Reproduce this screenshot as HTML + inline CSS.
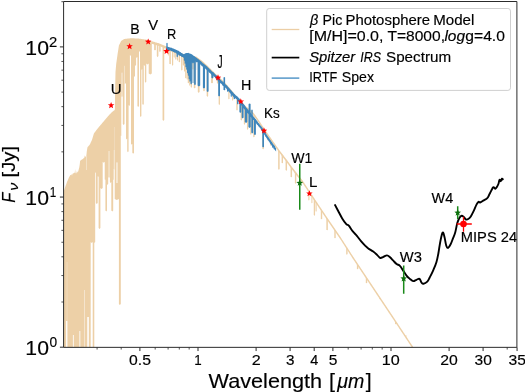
<!DOCTYPE html>
<html><head><meta charset="utf-8"><title>SED</title>
<style>html,body{margin:0;padding:0;background:#fff;}body{width:525px;height:392px;overflow:hidden;font-family:"Liberation Sans", sans-serif;}svg{display:block;will-change:transform;}text{stroke:#000;stroke-width:.16px;}</style></head>
<body>
<svg width="525" height="392" viewBox="0 0 525 392" font-family='"Liberation Sans", sans-serif' fill="#000" stroke-linejoin="round">
<defs><clipPath id="ax"><rect x="63.6" y="1.5" width="453.3" height="345.85"/></clipPath></defs>
<rect width="525" height="392" fill="#fff"/>
<g clip-path="url(#ax)">
<polygon points="63.5,192.6 63.8,191.25 63.9,190.8 64.1,190.2 64.4,189.3 64.7,188.4 65,187.5 65.2,186.9 65.3,186.63 65.6,185.83 65.9,185.02 66.2,184.22 66.5,183.41 66.8,182.61 67.1,181.8 67.4,181.11 67.7,180.41 68.01,179.69 68.31,179 68.61,178.3 68.91,177.61 69,177.4 69.21,177.04 69.51,176.54 69.81,176.03 70.11,175.52 70.3,175.2 70.41,175.12 70.71,174.88 71.01,174.65 71.31,174.42 71.6,174.2 71.61,174.25 71.91,175.59 72,176 72.21,174.95 72.4,174 72.51,173.89 72.8,173.6 72.81,173.6 73.11,173.46 73.41,173.32 73.71,173.18 74.01,173.04 74.1,173 74.31,172.85 74.61,172.64 74.8,172.5 74.91,171.25 75.1,169.1 75.21,170.12 75.5,172.8 75.51,172.82 75.81,173.3 76,173.6 76.11,173.4 76.41,172.85 76.6,172.5 76.71,171.92 77,170.4 77.02,170.49 77.32,171.92 77.4,172.3 77.62,172.3 77.9,172.3 77.92,172.23 78.22,171.19 78.52,170.15 78.82,169.12 79.12,168.08 79.2,167.8 79.42,166.41 79.72,164.51 79.8,164 80.02,161.65 80.1,160.8 80.32,160.65 80.62,160.44 80.92,160.23 81.22,160.02 81.52,159.81 81.82,159.6 82.12,159.39 82.4,159.2 82.42,159.19 82.72,158.98 83.02,158.77 83.32,158.56 83.62,158.36 83.7,158.3 83.92,158.08 84.22,157.78 84.4,157.6 84.52,156.6 84.7,155.1 84.82,155.67 85.1,157 85.12,156.98 85.42,156.62 85.6,156.4 85.73,156.33 86.03,156.15 86.3,156 86.33,155.72 86.63,152.9 86.8,151.3 86.93,150.54 87.23,148.78 87.5,147.2 87.53,147.17 87.83,146.83 88.13,146.49 88.43,146.15 88.73,145.81 89.03,145.47 89.33,145.13 89.63,144.79 89.8,144.6 89.93,144.32 90.23,143.67 90.53,143.01 90.83,142.36 91.13,141.71 91.43,141.06 91.73,140.4 92.03,139.75 92.1,139.6 92.33,138.84 92.63,137.84 92.93,136.85 93.23,135.85 93.53,134.86 93.83,133.86 94,133.3 94.13,133.13 94.44,132.72 94.74,132.33 95.04,131.94 95.34,131.55 95.64,131.16 95.94,130.76 96.24,130.37 96.54,129.98 96.84,129.59 97.14,129.19 97.44,128.8 97.74,128.41 97.9,128.2 98.04,128.03 98.34,127.68 98.64,127.32 98.94,126.97 99.24,126.61 99.54,126.26 99.84,125.9 100.14,125.55 100.44,125.19 100.74,124.84 101.04,124.48 101.34,124.13 101.64,123.77 101.7,123.7 101.94,123.42 102.24,123.06 102.54,122.71 102.84,122.35 103.14,121.99 103.45,121.63 103.75,121.27 104.05,120.92 104.35,120.56 104.65,120.21 104.95,119.85 105.25,119.5 105.5,119.2 105.55,119.14 105.85,118.79 106.15,118.45 106.45,118.1 106.75,117.75 107.05,117.41 107.35,117.06 107.65,116.71 107.95,116.36 108.25,116.02 108.55,115.67 108.85,115.32 109.15,114.97 109.3,114.8 109.45,114.65 109.75,114.35 110.05,114.05 110.35,113.75 110.65,113.45 110.95,113.15 111.25,112.85 111.55,112.55 111.85,112.25 112.16,111.94 112.46,111.64 112.5,111.6 112.76,111.42 113.06,111.22 113.36,111.01 113.66,110.81 113.96,110.6 114.26,110.4 114.4,110.3 114.56,110.04 114.86,109.56 114.9,109.5 115.1,92 115.16,89 115.46,74 115.5,72 115.76,69.03 116.06,65.6 116.2,64 116.36,62.85 116.66,60.7 116.96,58.55 117.26,56.4 117.4,55.4 117.56,54.34 117.86,52.36 118.16,50.38 118.46,48.4 118.76,46.42 118.9,45.5 119.06,45.18 119.36,44.58 119.66,43.98 119.96,43.38 120.26,42.78 120.56,42.18 120.86,41.58 121.17,40.96 121.2,40.9 121.47,40.73 121.77,40.54 122.07,40.35 122.37,40.16 122.67,39.97 122.97,39.78 123.27,39.59 123.57,39.4 123.87,39.21 124.17,39.02 124.2,39 124.47,38.97 124.77,38.93 125.07,38.9 125.37,38.86 125.67,38.83 125.97,38.79 126.27,38.76 126.57,38.73 126.87,38.69 127.17,38.66 127.47,38.62 127.77,38.59 128.07,38.55 128.37,38.52 128.67,38.48 128.97,38.45 129.27,38.41 129.57,38.38 129.88,38.34 130.18,38.31 130.48,38.27 130.78,38.24 131.08,38.2 131.1,38.2 131.38,38.21 131.68,38.23 131.98,38.25 132.28,38.26 132.58,38.28 132.88,38.29 133.18,38.31 133.48,38.32 133.78,38.34 134.08,38.35 134.38,38.37 134.68,38.39 134.98,38.4 135.28,38.42 135.58,38.43 135.88,38.45 136.18,38.46 136.48,38.48 136.78,38.5 137.08,38.51 137.38,38.53 137.68,38.54 137.98,38.56 138.28,38.57 138.59,38.59 138.8,38.6 138.89,38.61 139.19,38.66 139.49,38.7 139.79,38.74 140.09,38.79 140.39,38.83 140.69,38.87 140.99,38.92 141.29,38.96 141.59,39 141.89,39.05 142.19,39.09 142.49,39.13 142.79,39.18 143.09,39.22 143.39,39.26 143.69,39.31 143.99,39.35 144.29,39.39 144.59,39.44 144.89,39.48 145.19,39.52 145.49,39.57 145.79,39.61 146.09,39.66 146.39,39.7 146.4,39.7 146.69,39.79 146.99,39.87 147.29,39.96 147.6,40.06 147.9,40.14 148.2,40.23 148.5,40.32 148.8,40.41 149.1,40.5 149.4,40.59 149.7,40.68 150,40.77 150.3,40.86 150.6,40.94 150.9,41.03 151.2,41.12 151.5,41.21 151.8,41.3 151.8,73.4 150.25,74.4 148.7,73.4 148.7,63.5 147.5,64.5 146.3,63.5 146.3,81.8 145.6,82.8 144.9,81.8 144.9,65 144.35,66 143.8,65 143.8,104 143.05,105 142.3,104 142.3,69.1 141.85,70 141.4,69.1 141.4,116 140.7,117 140,116 140,51 139.5,52 139,51 139,106 138.2,107 137.4,106 137.4,57 136.75,58 136.1,57 136.1,65 135.55,66 135,65 135,76 134.5,77 134,76 134,152.8 133.15,153.8 132.3,152.8 132.3,143.7 131.65,144.7 131,143.7 131,55 130.45,56 129.9,55 129.9,105 129.25,106 128.6,105 128.6,151.2 127.9,152.2 127.2,151.2 127.2,138.5 126.6,139.5 126,138.5 126,83 125.5,84 125,83 125,65.5 124.75,66 124.5,65.5 124.5,124 123.65,125 122.8,124 122.8,96.6 122.6,97 122.4,96.6 122.4,72.2 122,73 121.6,72.2 121.6,96.7 121.45,97 121.3,96.7 121.3,135.5 121.05,136 120.8,135.5 120.8,304 119.85,305 118.9,304 118.9,199 116.8,200 114.7,199 114.7,169 114.2,170 113.7,169 113.7,179.5 113.45,180 113.2,179.5 113.2,210.5 112.25,211.5 111.3,210.5 111.3,182 110.6,183 109.9,182 109.9,177 109.05,178 108.2,177 108.2,184 107.6,185 107,184 107,210.5 106.2,211.5 105.4,210.5 105.4,179.3 105.05,180 104.7,179.3 104.7,161.7 103.7,162.7 102.7,161.7 102.7,188 101.55,189 100.4,188 100.4,228 99.5,229 98.6,228 98.6,176.1 98.15,177 97.7,176.1 97.7,203 96.8,204 95.9,203 95.9,172.3 95.55,173 95.2,172.3 95.2,242.1 94.75,243 94.3,242.1 94.3,360 92.7,360 92.7,242 91.7,243 90.7,242 90.7,360 63.5,360" fill="#edd0a7"/>
<rect x="66.1" y="321" width="1.3" height="39" fill="#fff" opacity="1"/>
<rect x="72.9" y="335" width="0.9" height="25" fill="#fff" opacity="0.9"/>
<rect x="79.4" y="331" width="0.9" height="29" fill="#fff" opacity="0.9"/>
<rect x="84.1" y="290" width="0.8" height="70" fill="#fff" opacity="0.55"/>
<rect x="87.3" y="317" width="1.5" height="43" fill="#fff" opacity="1"/>
<rect x="66.7" y="262" width="0.7" height="59" fill="#fff" opacity="0.35"/>
<rect x="86" y="156" width="0.8" height="14" fill="#fff" opacity="0.45"/>
<rect x="108.2" y="151" width="1.7" height="27" fill="#fff" opacity="0.35"/>
<rect x="113.7" y="150" width="1" height="20" fill="#fff" opacity="0.4"/>
<rect x="116.1" y="162.4" width="1.7" height="20.6" fill="#fff" opacity="0.55"/>
<rect x="114.4" y="127" width="0.6" height="43" fill="#fff" opacity="0.35"/>
<rect x="121.6" y="72" width="0.8" height="24" fill="#edd0a7" opacity="0.55"/>
<rect x="124.5" y="65" width="0.5" height="19" fill="#edd0a7" opacity="0.5"/>
<polygon points="151.6,41.14 152.2,41.32 152.8,41.5 153.4,41.68 154,41.86 154.6,42.04 155.2,42.22 155.8,42.39 156.4,42.57 157,42.75 157.6,42.93 158.2,43.11 158.8,43.29 159.4,43.47 160,43.71 160.6,43.97 161.2,44.22 161.8,44.48 162.4,44.74 163,44.99 163.6,45.25 164.2,45.5 164.8,45.76 165.4,46.01 166,46.29 166.6,46.58 167.2,46.86 167.8,47.15 168.4,47.44 169,47.72 169.6,48.01 170.2,48.29 170.8,48.56 171.4,48.83 172,49.1 172.6,49.37 173.2,49.64 173.8,49.91 174.4,50.18 175,50.45 175.6,50.72 176.2,50.99 176.8,51.24 177.4,51.5 178,51.76 178.6,52.01 179.2,52.27 179.8,52.53 180.4,52.79 181,53.04 181.6,53.3 182.2,53.56 182.8,53.81 183.4,54.07 184,54.27 184.6,54.41 185.2,54.55 185.8,54.69 186.4,54.84 187,54.98 187.6,55.12 188.2,55.26 188.8,55.4 189.4,55.48 190,55.56 190.6,55.64 191.2,55.72 191.8,55.79 192.4,55.87 193,55.98 193.6,56.11 194.2,56.24 194.8,56.36 195.4,56.49 196,56.62 196.6,56.84 197.2,57.26 197.8,57.69 198.4,58.11 199,58.54 199.6,58.96 200.2,59.38 200.8,59.81 201.4,60.23 202,60.74 202.6,61.27 203.2,61.8 203.8,62.33 204.4,62.86 205,63.39 205.6,63.92 206.2,64.45 206.8,65 207.4,65.6 208,66.2 208.6,66.8 209.2,67.4 209.8,68 210.4,68.6 211,69.2 211.6,69.8 212.2,70.4 212.8,71 213.4,71.6 214,72.2 214.6,72.8 215.2,73.4 215.8,74 216.4,74.6 217,75.17 217.6,75.69 218.2,76.22 218.8,76.74 219.4,77.26 220,77.78 220.6,78.3 221.2,78.9 221.8,79.5 222.4,80.1 223,80.7 223.6,81.3 224.2,81.9 224.8,82.5 225.4,83.1 226,83.7 226.6,84.39 227.2,85.08 227.8,85.78 228.4,86.47 229,87.16 229.6,87.85 230.2,88.55 230.8,89.24 231.4,89.95 232,90.71 232.6,91.47 233.2,92.22 233.8,92.98 234.4,93.73 235,94.49 235.6,95.25 236.2,95.93 236.8,96.59 237.4,97.24 238,97.89 238.6,98.54 239.2,99.2 239.8,99.85 240.4,100.5 241,101.15 241.6,101.8 242.2,102.46 242.8,103.11 243.4,103.76 244,104.41 244.6,105.07 245.2,105.66 245.8,106.15 246.4,106.64 247,107.13 247.6,107.62 248.2,108.11 248.8,108.6 249.4,109.09 250,109.58 250.6,110.07 251.2,110.56 251.8,111.05 252.4,111.54 253,112.22 253.6,113.01 254.2,113.79 254.8,114.57 255.4,115.36 256,116.14 256.6,117 257.2,117.89 257.8,118.79 258.4,119.68 259,120.57 259.6,121.47 260.2,122.36 260.8,123.26 261.4,124.15 262,125.05 262.6,125.94 263.2,126.84 263.8,127.73 264.4,128.62 265,129.52 265.6,130.41 266.2,131.31 266.8,132.2 267.4,133.07 268,133.93 268.6,134.78 269.2,135.64 269.8,136.49 270.4,137.35 271,138.2 271.6,139.06 272.2,139.92 272.8,140.77 273.4,141.63 274,142.48 274.6,143.34 275.2,144.2 275.8,145.05 276.4,145.91 277,146.76 277.6,147.62 278.2,148.47 278.8,149.33 279.4,150.16 280,150.94 280.6,151.72 281.2,152.5 281.8,153.28 282.4,154.06 283,154.84 283.6,155.61 284.2,156.39 284.8,157.17 285.4,157.95 286,158.73 286.6,159.51 287.2,160.32 287.8,161.15 288.4,161.99 289,162.82 289.6,163.66 290.2,164.49 290.8,165.33 291.4,166.16 292,166.94 292.6,167.72 293.2,168.49 293.8,169.26 294.4,170.03 295,170.8 295.6,171.58 296.2,172.35 296.8,173.12 297.4,173.89 298,174.67 298.6,175.44 299.2,176.21 299.8,176.98 300.4,177.75 301,178.53 301.6,179.3 302.2,180.07 302.8,180.84 303.4,181.71 304,182.62 304.6,183.53 305.2,184.44 305.8,185.35 306.4,186.26 307,187.17 307.6,188.08 308.2,188.99 308.8,189.9 309.4,190.81 310,191.72 310.6,192.63 311.2,193.54 311.8,194.45 312.4,195.36 313,196.28 313.6,197.19 314.2,198.1 314.8,199 315.4,199.9 316,200.79 316.6,201.69 317.2,202.59 317.8,203.49 318.4,204.38 319,205.28 319.6,206.18 320.2,207.07 320.8,207.97 321.4,208.87 322,209.77 322.6,210.66 323.2,211.56 323.8,212.46 324.4,213.36 325,214.25 325.6,215.15 326.2,216.04 326.8,216.92 327.4,217.79 328,218.67 328.6,219.55 329.2,220.43 329.8,221.31 330.4,222.18 331,223.06 331.6,223.94 332.2,224.82 332.8,225.7 333.4,226.57 334,227.45 334.6,228.33 335.2,229.21 335.8,230.08 336.4,230.96 337,231.84 337.6,232.72 338.2,233.6 338.8,234.47 339.4,235.35 340,236.23 340.6,237.11 341.2,238.02 341.8,238.96 342.4,239.89 343,240.83 343.6,241.76 344.2,242.7 344.8,243.63 345.4,244.56 346,245.5 346.6,246.43 347.2,247.37 347.8,248.3 348.4,249.24 349,250.17 349.6,251.1 350.2,252.04 350.8,252.97 351.4,253.91 352,254.84 352.6,255.78 353.2,256.7 353.8,257.6 354.4,258.5 355,259.4 355.6,260.3 356.2,261.2 356.8,262.1 357.4,263 358,263.9 358.6,264.8 359.2,265.7 359.8,266.6 360.4,267.5 361,268.4 361.6,269.3 362.2,270.2 362.8,271.1 363.4,272 364,272.9 364.6,273.8 365.2,274.7 365.8,275.6 366.4,276.5 367,277.4 367.6,278.3 368.2,279.2 368.8,280.1 369.4,281 370,281.9 370.6,282.8 371.2,283.7 371.8,284.6 372.4,285.5 373,286.4 373.6,287.3 374.2,288.2 374.8,289.1 375.4,290 376,290.9 376.6,291.8 377.2,292.7 377.8,293.6 378.4,294.5 379,295.4 379.6,296.3 380.2,297.2 380.8,298.1 381.4,299 382,299.9 382.6,300.8 383.2,301.7 383.8,302.6 384.4,303.5 385,304.4 385.6,305.3 386.2,306.2 386.8,307.1 387.4,308 388,308.9 388.6,309.8 389.2,310.7 389.8,311.6 390.4,312.5 391,313.4 391.6,314.3 392.2,315.2 392.8,316.1 393.4,317 394,317.91 394.6,318.82 395.2,319.73 395.8,320.63 396.4,321.54 397,322.45 397.6,323.35 398.2,324.26 398.8,325.17 399.4,326.07 400,326.98 400.6,327.89 401.2,328.8 401.8,329.7 402.4,330.61 403,331.52 403.6,332.42 404.2,333.33 404.8,334.24 405.4,335.14 406,336.05 406.6,336.96 407.2,337.87 407.8,338.77 408.4,339.68 409,340.59 409.6,341.49 410.2,342.4 410.8,343.31 411.4,344.21 412,345.12 412.6,346.03 413.2,346.93 413.8,347.84 414.4,348.75 414.4,351.35 413.8,350.44 413.2,349.53 412.6,348.63 412,347.72 411.4,346.81 410.8,345.91 410.2,345 409.6,344.09 409,343.19 408.4,342.28 407.8,341.37 407.2,340.47 406.6,339.56 406,338.65 405.4,337.74 404.8,336.84 404.2,335.93 403.6,335.02 403,334.12 402.4,333.21 401.8,332.3 401.2,331.4 400.6,330.49 400,329.58 399.4,328.67 398.8,327.77 398.2,326.86 397.6,325.95 397,325.05 396.4,324.14 395.8,323.23 395.2,322.33 394.6,321.42 394,320.51 393.4,319.6 392.8,318.7 392.2,317.8 391.6,316.9 391,316 390.4,315.1 389.8,314.2 389.2,313.3 388.6,312.4 388,311.5 387.4,310.6 386.8,309.7 386.2,308.8 385.6,307.9 385,307 384.4,306.1 383.8,305.2 383.2,304.3 382.6,303.4 382,302.5 381.4,301.6 380.8,300.7 380.2,299.8 379.6,298.9 379,298 378.4,297.1 377.8,296.2 377.2,295.3 376.6,294.4 376,293.5 375.4,292.6 374.8,291.7 374.2,290.8 373.6,289.9 373,289 372.4,288.1 371.8,287.2 371.2,286.3 370.6,285.4 370,284.5 369.4,283.6 368.8,282.7 368.2,281.8 367.6,280.9 367,280 366.4,279.1 365.8,278.2 365.2,277.3 364.6,276.4 364,275.5 363.4,274.6 362.8,273.7 362.2,272.8 361.6,271.9 361,271 360.4,270.1 359.8,269.2 359.2,268.3 358.6,267.4 358,266.5 357.4,265.6 356.8,264.7 356.2,263.8 355.6,262.9 355,262 354.4,261.1 353.8,260.2 353.2,259.3 352.6,258.38 352,257.44 351.4,256.51 350.8,255.57 350.2,254.64 349.6,253.7 349,252.77 348.4,251.84 347.8,250.9 347.2,249.97 346.6,249.03 346,248.1 345.4,247.16 344.8,246.23 344.2,245.3 343.6,244.36 343,243.43 342.4,242.49 341.8,241.56 341.2,240.62 340.6,239.71 340,238.83 339.4,237.95 338.8,237.07 338.2,236.2 337.6,235.32 337,234.44 336.4,233.56 335.8,232.68 335.2,231.81 334.6,230.93 334,230.05 333.4,229.17 332.8,228.3 332.2,227.42 331.6,226.54 331,225.66 330.4,224.78 329.8,223.91 329.2,223.03 328.6,222.15 328,221.27 327.4,220.39 326.8,219.52 326.2,218.64 325.6,217.75 325,216.85 324.4,215.96 323.8,215.06 323.2,214.16 322.6,213.26 322,212.37 321.4,211.47 320.8,210.57 320.2,209.67 319.6,208.78 319,207.88 318.4,206.98 317.8,206.09 317.2,205.19 316.6,204.29 316,203.39 315.4,202.5 314.8,201.6 314.2,200.7 313.6,199.79 313,198.88 312.4,197.96 311.8,197.05 311.2,196.14 310.6,195.23 310,194.32 309.4,193.41 308.8,192.5 308.2,191.59 307.6,190.68 307,189.77 306.4,188.86 305.8,187.95 305.2,187.04 304.6,186.13 304,185.22 303.4,184.31 302.8,183.44 302.2,182.67 301.6,181.9 301,181.13 300.4,180.35 299.8,179.58 299.2,178.81 298.6,178.04 298,177.27 297.4,176.49 296.8,175.72 296.2,174.95 295.6,174.18 295,173.4 294.4,172.63 293.8,171.86 293.2,171.09 292.6,170.32 292,169.54 291.4,168.76 290.8,167.93 290.2,167.09 289.6,166.26 289,165.42 288.4,164.59 287.8,163.75 287.2,162.92 286.6,162.11 286,161.33 285.4,160.55 284.8,159.77 284.2,158.99 283.6,158.21 283,157.44 282.4,156.66 281.8,155.88 281.2,155.1 280.6,154.32 280,153.54 279.4,152.76 278.8,151.93 278.2,151.07 277.6,150.22 277,149.36 276.4,148.51 275.8,147.65 275.2,146.8 274.6,145.94 274,145.08 273.4,144.23 272.8,143.37 272.2,142.52 271.6,141.66 271,140.8 270.4,139.95 269.8,139.09 269.2,138.24 268.6,137.38 268,136.53 267.4,135.67 266.8,134.8 266.2,133.91 265.6,133.01 265,132.12 264.4,131.22 263.8,130.33 263.2,129.44 262.6,128.54 262,127.65 261.4,126.75 260.8,125.86 260.2,124.96 259.6,124.07 259,123.17 258.4,122.28 257.8,121.39 257.2,120.49 256.6,119.6 256,118.74 255.4,117.96 254.8,117.17 254.2,116.39 253.6,115.61 253,114.82 252.4,114.14 251.8,113.65 251.2,113.16 250.6,112.67 250,112.18 249.4,111.69 248.8,111.2 248.2,110.71 247.6,110.22 247,109.73 246.4,109.24 245.8,108.75 245.2,108.26 244.6,107.67 244,107.01 243.4,106.36 242.8,105.71 242.2,105.06 241.6,104.4 241,103.75 240.4,103.1 239.8,102.45 239.2,101.8 238.6,101.14 238,100.49 237.4,99.84 236.8,99.19 236.2,98.53 235.6,97.85 235,97.09 234.4,96.33 233.8,95.58 233.2,94.82 232.6,94.07 232,93.31 231.4,92.55 230.8,91.84 230.2,91.15 229.6,90.45 229,89.76 228.4,89.07 227.8,88.38 227.2,87.68 226.6,86.99 226,86.3 225.4,85.7 224.8,85.1 224.2,84.5 223.6,83.9 223,83.3 222.4,82.7 221.8,82.1 221.2,81.5 220.6,80.9 220,80.38 219.4,79.86 218.8,79.34 218.2,78.82 217.6,78.29 217,77.77 216.4,77.2 215.8,76.6 215.2,76 214.6,75.4 214,74.8 213.4,74.2 212.8,73.6 212.2,73 211.6,72.4 211,71.8 210.4,71.2 209.8,70.6 209.2,70 208.6,69.4 208,68.8 207.4,68.2 206.8,67.6 206.2,67.05 205.6,66.52 205,65.99 204.4,65.46 203.8,64.93 203.2,64.4 202.6,63.87 202,63.34 201.4,62.83 200.8,62.41 200.2,61.98 199.6,61.56 199,61.14 198.4,60.71 197.8,60.29 197.2,59.86 196.6,59.44 196,59.22 195.4,59.09 194.8,58.96 194.2,58.84 193.6,58.71 193,58.58 192.4,58.47 191.8,58.39 191.2,58.32 190.6,58.24 190,58.16 189.4,58.08 188.8,58 188.2,57.86 187.6,57.72 187,57.58 186.4,57.44 185.8,57.29 185.2,57.15 184.6,57.01 184,56.87 183.4,56.67 182.8,56.41 182.2,56.16 181.6,55.9 181,55.64 180.4,55.39 179.8,55.13 179.2,54.87 178.6,54.61 178,54.36 177.4,54.1 176.8,53.84 176.2,53.59 175.6,53.32 175,53.05 174.4,52.78 173.8,52.51 173.2,52.24 172.6,51.97 172,51.7 171.4,51.43 170.8,51.16 170.2,50.89 169.6,50.61 169,50.32 168.4,50.04 167.8,49.75 167.2,49.46 166.6,49.18 166,48.89 165.4,48.61 164.8,48.36 164.2,48.1 163.6,47.85 163,47.59 162.4,47.34 161.8,47.08 161.2,46.82 160.6,46.57 160,46.31 159.4,46.07 158.8,45.89 158.2,45.71 157.6,45.53 157,45.35 156.4,45.17 155.8,44.99 155.2,44.82 154.6,44.64 154,44.46 153.4,44.28 152.8,44.1 152.2,43.92 151.6,43.74" fill="#edd0a7"/>
<polygon points="154.15,43 155.85,43.51 155.85,49.4 155,50.6 154.15,49.4" fill="#edd0a7"/>
<polygon points="156.8,43.79 158.4,44.27 158.4,56 157.6,57.2 156.8,56" fill="#edd0a7"/>
<polygon points="159.15,44.5 160.65,45.09 160.65,51 159.9,52.2 159.15,51" fill="#edd0a7"/>
<polygon points="162.55,45.9 164.25,46.62 164.25,119.8 163.4,121 162.55,119.8" fill="#edd0a7"/>
<polygon points="167.8,48.25 168.8,48.73 168.8,54.8 168.3,56 167.8,54.8" fill="#edd0a7"/>
<polygon points="169.35,48.99 170.85,49.68 170.85,63.3 170.1,64.5 169.35,63.3" fill="#edd0a7"/>
<polygon points="172,50.2 173.2,50.74 173.2,64.8 172.6,66 172,64.8" fill="#edd0a7"/>
<polygon points="173.7,50.96 174.7,51.41 174.7,56.8 174.2,58 173.7,56.8" fill="#edd0a7"/>
<polygon points="175.2,51.64 176.4,52.17 176.4,58.8 175.8,60 175.2,58.8" fill="#edd0a7"/>
<polygon points="176.9,52.39 178.1,52.9 178.1,59.8 177.5,61 176.9,59.8" fill="#edd0a7"/>
<polygon points="178.7,53.16 180.1,53.76 180.1,61.3 179.4,62.5 178.7,61.3" fill="#edd0a7"/>
<polygon points="181.15,54.21 182.45,54.76 182.45,69.6 181.8,70.8 181.15,69.6" fill="#edd0a7"/>
<polygon points="182.8,54.91 184,55.37 184,64.8 183.4,66 182.8,64.8" fill="#edd0a7"/>
<polygon points="184,55.37 185.2,55.65 185.2,70.8 184.6,72 184,70.8" fill="#edd0a7"/>
<polygon points="185.15,55.64 186.45,55.95 186.45,77.2 185.8,78.4 185.15,77.2" fill="#edd0a7"/>
<polygon points="186.6,55.98 187.8,56.26 187.8,78.8 187.2,80 186.6,78.8" fill="#edd0a7"/>
<polygon points="187.75,56.25 189.05,56.53 189.05,82.3 188.4,83.5 187.75,82.3" fill="#edd0a7"/>
<polygon points="189.2,56.55 190.4,56.71 190.4,84.8 189.8,86 189.2,84.8" fill="#edd0a7"/>
<polygon points="190.65,56.74 191.95,56.91 191.95,86.8 191.3,88 190.65,86.8" fill="#edd0a7"/>
<polygon points="192.35,56.97 193.65,57.22 193.65,68.8 193,70 192.35,68.8" fill="#edd0a7"/>
<polygon points="193.8,57.25 195.4,57.59 195.4,87.3 194.6,88.5 193.8,87.3" fill="#edd0a7"/>
<polygon points="197.8,58.79 199.6,60.06 199.6,91.8 198.7,93 197.8,91.8" fill="#edd0a7"/>
<polygon points="203.3,62.99 204.7,64.22 204.7,90.3 204,91.5 203.3,90.3" fill="#edd0a7"/>
<polygon points="206.65,65.95 208.15,67.45 208.15,95.8 207.4,97 206.65,95.8" fill="#edd0a7"/>
<polygon points="211.1,70.4 212.9,72.2 212.9,82.3 212,83.5 211.1,82.3" fill="#edd0a7"/>
<polygon points="216.9,76.19 218.1,77.23 218.1,82.8 217.5,84 216.9,82.8" fill="#edd0a7"/>
<polygon points="218.65,77.71 219.95,78.84 219.95,104.1 219.3,105.3 218.65,104.1" fill="#edd0a7"/>
<polygon points="228.3,87.45 229.5,88.84 229.5,98.3 228.9,99.5 228.3,98.3" fill="#edd0a7"/>
<polygon points="232.1,91.93 233.3,93.45 233.3,99.8 232.7,101 232.1,99.8" fill="#edd0a7"/>
<polygon points="236.3,97.14 237.7,98.67 237.7,109.5 237,110.7 236.3,109.5" fill="#edd0a7"/>
<polygon points="240.65,101.87 241.95,103.28 241.95,119.5 241.3,120.7 240.65,119.5" fill="#edd0a7"/>
<polygon points="243.85,105.35 245.15,106.72 245.15,123.8 244.5,125 243.85,123.8" fill="#edd0a7"/>
<polygon points="246.95,108.19 248.25,109.25 248.25,128.8 247.6,130 246.95,128.8" fill="#edd0a7"/>
<polygon points="250.25,110.88 251.55,111.94 251.55,133.8 250.9,135 250.25,133.8" fill="#edd0a7"/>
<polygon points="253.25,113.65 254.55,115.35 254.55,136.3 253.9,137.5 253.25,136.3" fill="#edd0a7"/>
<polygon points="262.4,126.74 263.8,128.83 263.8,148.3 263.1,149.5 262.4,148.3" fill="#edd0a7"/>
<polygon points="267.4,134.17 268.6,135.88 268.6,139.8 268,141 267.4,139.8" fill="#edd0a7"/>
<polygon points="270,137.88 271.2,139.59 271.2,144.8 270.6,146 270,144.8" fill="#edd0a7"/>
<polygon points="278.15,149.5 279.65,151.58 279.65,168.7 278.9,169.9 278.15,168.7" fill="#edd0a7"/>
<polygon points="281.6,154.12 283,155.94 283,162.3 282.3,163.5 281.6,162.3" fill="#edd0a7"/>
<polygon points="285.55,159.25 287.05,161.21 287.05,169.8 286.3,171 285.55,169.8" fill="#edd0a7"/>
<polygon points="290.55,166.08 292.05,168.11 292.05,176.3 291.3,177.5 290.55,176.3" fill="#edd0a7"/>
<polygon points="294.9,171.78 296.3,173.58 296.3,182.8 295.6,184 294.9,182.8" fill="#edd0a7"/>
<polygon points="308.35,190.32 309.45,191.99 309.45,199.6 308.9,200.8 308.35,199.6" fill="#edd0a7"/>
<polygon points="311.4,194.95 312.4,196.46 312.4,202.3 311.9,203.5 311.4,202.3" fill="#edd0a7"/>
<polygon points="313.75,198.51 315.05,200.47 315.05,214.8 314.4,216 313.75,214.8" fill="#edd0a7"/>
<polygon points="315.55,201.22 316.65,202.87 316.65,210.8 316.1,212 315.55,210.8" fill="#edd0a7"/>
<polygon points="320.8,209.07 322.2,211.17 322.2,218.3 321.5,219.5 320.8,218.3" fill="#edd0a7"/>
<polygon points="326.35,217.36 327.85,219.55 327.85,229.3 327.1,230.5 326.35,229.3" fill="#edd0a7"/>
<polygon points="334.3,228.99 335.7,231.04 335.7,237.3 335,238.5 334.3,237.3" fill="#edd0a7"/>
<polygon points="346.2,246.91 347.6,249.09 347.6,253.8 346.9,255 346.2,253.8" fill="#edd0a7"/>
<polygon points="356.9,263.35 358.3,265.45 358.3,268.3 357.6,269.5 356.9,268.3" fill="#edd0a7"/>
<polygon points="365.8,276.7 367.2,278.8 367.2,282.3 366.5,283.5 365.8,282.3" fill="#edd0a7"/>
<polygon points="379.35,297.02 380.65,298.97 380.65,298.3 380,299.5 379.35,298.3" fill="#edd0a7"/>
<polygon points="395.05,320.6 396.35,322.56 396.35,323.3 395.7,324.5 395.05,323.3" fill="#edd0a7"/>
<polygon points="405.05,335.72 406.35,337.68 406.35,334.8 405.7,336 405.05,334.8" fill="#edd0a7"/>
<path d="M334.7 204.4C335.34 205.61 336.82 208.43 338.2 211C339.57 213.57 340.71 216 342.2 218.4C343.69 220.8 345.09 222.78 346.3 224.1C347.51 225.42 347.61 224.26 348.8 225.6C349.99 226.94 351.31 229.53 352.8 231.4C354.29 233.27 355.4 234 356.9 235.8C358.4 237.6 359.5 239.4 361 241.2C362.5 243 363.76 244.28 365.1 245.6C366.44 246.92 366.81 247.32 368.3 248.4C369.79 249.48 371.55 250.27 373.2 251.5C374.85 252.73 376 253.91 377.3 255.1C378.6 256.29 379.16 257.69 380.3 258C381.44 258.31 382.27 257.28 383.5 256.8C384.73 256.32 385.81 255.33 387 255.4C388.19 255.47 388.84 256.23 390 257.2C391.16 258.17 392.09 259.45 393.3 260.7C394.51 261.95 395.39 263.06 396.6 264C397.81 264.94 398.69 264.59 399.9 265.8C401.11 267.01 401.99 268.8 403.2 270.6C404.41 272.4 405.27 274.08 406.5 275.6C407.73 277.12 408.67 277.89 409.9 278.9C411.13 279.91 411.99 280.94 413.2 281.1C414.41 281.27 415.34 280.2 416.5 279.8C417.66 279.4 418.58 278.4 419.5 278.9C420.42 279.39 420.77 281.62 421.5 282.5C422.23 283.38 422.44 283.87 423.5 283.7C424.56 283.53 426.14 282.77 427.3 281.6C428.46 280.43 428.74 279.32 429.8 277.3C430.86 275.28 431.89 273.35 433.1 270.6C434.31 267.85 435.43 265.49 436.4 262.3C437.37 259.11 437.74 256.68 438.4 253.2C439.06 249.72 439.39 246.6 440 243.3C440.61 240 441.13 237.16 441.7 235.2C442.27 233.24 442.57 232.18 443.1 232.6C443.63 233.02 444.01 235.08 444.6 237.5C445.19 239.92 445.64 243.91 446.3 245.8C446.96 247.69 447.38 248.15 448.2 247.8C449.02 247.45 449.92 245.64 450.8 243.9C451.68 242.16 452.19 240.39 453 238.3C453.81 236.21 454.41 235.29 455.2 232.5C455.99 229.71 456.51 225.81 457.3 223.1C458.09 220.39 458.69 219.04 459.5 217.7C460.31 216.36 460.91 215.93 461.7 215.8C462.49 215.67 463.01 216.32 463.8 217C464.59 217.68 465.12 219.17 466 219.5C466.88 219.83 467.72 219.37 468.6 218.8C469.48 218.23 469.88 217.79 470.8 216.4C471.72 215.01 472.54 213.4 473.6 211.2C474.66 209 475.68 206.12 476.6 204.4C477.52 202.68 477.96 202.15 478.6 201.8C479.24 201.45 479.26 202.72 480.1 202.5C480.94 202.28 481.88 201.41 483.2 200.6C484.52 199.79 486.18 199.22 487.3 198.1C488.42 196.98 488.37 196.28 489.3 194.5C490.24 192.72 491.61 189.76 492.4 188.4C493.19 187.04 493.05 187.04 493.6 187.1C494.15 187.16 494.78 188.75 495.4 188.7C496.02 188.64 496.43 187.7 497 186.8C497.57 185.9 498.04 185.08 498.5 183.8C498.96 182.52 499.1 180.28 499.5 179.8C499.9 179.32 500.24 181.4 500.7 181.2C501.16 181 501.52 178.92 502 178.7C502.48 178.48 503.06 179.76 503.3 180" fill="none" stroke="#000" stroke-width="1.9" stroke-linejoin="round" stroke-linecap="butt"/>
<polygon points="166.4,46.53 166.9,46.55 167.4,46.84 167.9,46.74 168.4,47.05 168.9,47.12 169.4,47.13 169.9,47.44 170.4,47.39 170.9,47.68 171.4,47.67 171.9,47.81 172.4,48.13 172.9,48.49 173.4,48.41 173.9,48.65 174.4,49.01 174.9,49.34 175.4,49.39 175.9,49.52 176.4,50.02 176.9,49.94 177.4,50.55 177.9,50.61 178.4,50.84 178.9,51.11 179.4,51.48 179.9,51.97 180.4,52.04 180.9,52.52 181.4,52.88 181.9,53.1 182.4,53.5 182.9,53.63 183.4,53.96 183.9,54.21 184.4,54.02 184.9,53.55 185.4,53.13 185.9,53.18 186.4,53.08 186.9,52.97 187.4,53.12 187.9,53.03 188.4,52.8 188.9,53.14 189.4,53.33 189.9,53.68 190.4,53.83 190.9,53.86 191.4,54.35 191.9,54.33 192.4,54.81 192.9,55.3 193.4,55.41 193.9,55.9 194.4,56.08 194.9,56.68 195.4,57.08 195.9,57.36 196.4,57.83 196.9,57.96 197.4,58.47 197.9,58.79 198.4,59.13 198.9,59.44 199.4,60 199.9,60.49 200.4,60.75 200.9,61.28 201.4,61.48 201.9,62.19 202.4,62.61 202.9,63.2 203.4,63.56 203.9,63.79 204.4,64.26 204.9,64.81 205.4,64.99 205.9,65.6 206.4,65.92 206.9,66.34 207.4,66.78 207.9,67.52 208.4,67.73 208.9,68.23 209.4,68.75 209.9,69.4 210.4,69.55 210.9,70.15 211.4,70.64 211.9,71.22 212.4,71.64 212.9,72.1 213.4,72.32 213.9,72.82 214.4,73.24 214.9,73.95 215.4,74.48 215.9,74.66 216.4,75.17 216.9,75.69 217.4,76.19 217.9,76.82 218.4,77.4 218.9,77.81 219.4,78.24 219.9,78.94 220.4,79.44 220.9,79.98 221.4,80.59 221.9,80.95 222.4,81.34 222.9,81.84 223.4,82.32 223.9,82.54 224.4,83.33 224.9,83.75 225.4,84.25 225.9,84.67 226.4,84.97 226.9,85.51 227.4,85.98 227.9,86.78 228.4,87.14 228.9,87.73 229.4,88.37 229.9,88.94 230.4,89.6 230.9,90.07 231.4,90.61 231.9,91.19 232.4,91.69 232.9,92.32 233.4,92.71 233.9,93.57 234.4,93.98 234.9,94.32 235.4,94.88 235.9,95.4 236.4,95.7 236.9,95.9 237.4,96.48 237.9,97.09 238.4,97.5 238.9,98.13 239.4,98.59 239.9,99.22 240.4,99.94 240.9,100.54 241.4,101.39 241.9,101.76 242.4,102.33 242.9,103.33 243.4,103.79 243.9,104.27 244.4,105.06 244.9,105.48 245.4,106.32 245.9,107.13 246.4,107.72 246.9,108.29 247.4,108.74 247.9,109.42 248.4,109.97 248.9,110.84 249.4,111.38 249.9,112.11 250.4,112.56 250.9,113.15 251.4,114.01 251.9,114.71 252.4,115.29 252.9,115.9 253.4,116.54 253.9,117.14 254.4,117.56 254.9,118.31 255.4,118.87 255.9,119.37 256.4,120 256.9,120.73 257.4,121.35 257.9,122.15 258.4,122.88 258.9,123.3 259.4,124.12 259.9,124.77 260.4,125.38 260.9,125.77 261.4,126.38 261.9,127.13 262.4,127.86 262.9,128.6 263.4,129.51 263.9,130.36 264.4,131.11 264.9,131.74 265.4,132.58 265.9,133.41 266.4,133.89 266.9,134.89 267.4,135.77 267.9,136.49 268.4,137.25 268.9,137.86 269.4,138.46 269.9,139.41 270.4,139.94 270.9,140.84 271.4,141.62 271.9,142.11 272.4,142.82 272.9,143.75 273.4,144.38 273.9,144.87 274.4,145.57 274.9,146.34 275.4,147.44 275.9,148.2 276.1,148.26 276.1,151.4 275.9,151.32 275.4,150.59 274.9,149.9 274.4,149.5 273.9,148.41 273.4,147.57 272.9,147.6 272.4,146.63 271.9,145.82 271.4,145.44 270.9,144.33 270.4,143.97 269.9,143.23 269.4,142.06 268.9,141.42 268.4,140.76 267.9,139.98 267.4,139.52 266.9,138.52 266.4,137.88 265.9,136.88 265.4,136.74 264.9,135.51 264.4,134.81 263.9,134.12 263.4,133.63 262.9,132.49 262.4,132.09 261.9,130.96 261.4,130.19 260.9,129.45 260.4,128.37 259.9,128.02 259.4,127.17 258.9,126.41 258.4,126.42 257.9,125.3 257.4,124.93 256.9,124.51 256.4,123.75 255.9,122.94 255.4,122.48 254.9,121.9 254.4,121.46 253.9,120.31 253.4,120.05 252.9,119.19 252.4,118.6 251.9,118.38 251.4,117.55 250.9,116.98 250.4,116.52 249.9,116.03 249.4,115.04 248.9,114.56 248.4,113.86 247.9,113.25 247.4,112.78 246.9,111.97 246.4,111.42 245.9,110.75 245.4,110.5 244.9,109.69 244.4,109.22 243.9,108.65 243.4,107.49 242.9,107.11 242.4,106.81 241.9,106.11 241.4,104.92 240.9,104.29 240.4,103.93 239.9,103.02 239.4,102.53 238.9,101.74 238.4,101.41 237.9,100.71 237.4,100.08 236.9,99.12 236.4,99.23 235.9,98.89 235.4,98.12 234.9,98.31 234.4,97.99 233.9,96.91 233.4,96.98 232.9,96.02 232.4,95.6 231.9,95.52 231.4,94.92 230.9,93.87 230.4,93.55 229.9,93.07 229.4,92.37 228.9,91.67 228.4,91.19 227.9,90.91 227.4,89.69 226.9,89.46 226.4,88.77 225.9,87.9 225.4,87.63 224.9,87.37 224.4,86.82 223.9,86.01 223.4,86.29 222.9,85.68 222.4,85.38 221.9,84.23 221.4,83.94 220.9,83.35 220.4,83.53 219.9,82.65 219.4,82.06 218.9,81.8 218.4,81.65 217.9,81.03 217.4,80.04 216.9,79.44 216.4,79.54 215.9,78.75 215.4,78.33 214.9,77.32 214.4,76.77 213.9,76.8 213.4,76.12 212.9,75.37 212.4,75.62 211.9,74.94 211.4,74.64 210.9,73.63 210.4,73.81 209.9,72.73 209.4,72.92 208.9,72.15 208.4,71.6 207.9,71.31 207.4,71.14 206.9,70.14 206.4,69.58 205.9,69.46 205.4,68.78 204.9,68.25 204.4,67.86 203.9,67.35 203.4,67.05 202.9,66.71 202.4,66.27 201.9,66.2 201.4,65.39 200.9,65.12 200.4,64.4 199.9,64.04 199.4,63.29 198.9,63.03 198.4,62.44 197.9,62.62 197.4,62.1 196.9,61.47 196.4,61.36 195.9,61.38 195.4,60.37 194.9,60.6 194.4,59.95 193.9,59.65 193.4,59.58 192.9,58.87 192.4,58.54 191.9,58.27 191.4,58.12 190.9,57.34 190.4,57.47 189.9,57.13 189.4,56.78 188.9,56.33 188.4,56.03 187.9,55.83 187.4,55.94 186.9,55.97 186.4,56.61 185.9,56.36 185.4,56.46 184.9,56.7 184.4,57.59 183.9,57.93 183.4,57.6 182.9,57.14 182.4,57.09 181.9,56.88 181.4,56.68 180.9,56.08 180.4,55.96 179.9,55.47 179.4,55.72 178.9,55.42 178.4,54.78 177.9,54.25 177.4,54.53 176.9,53.67 176.4,53.38 175.9,52.79 175.4,52.86 174.9,52.7 174.4,52.49 173.9,52.05 173.4,52.09 172.9,51.47 172.4,51.45 171.9,51.1 171.4,51.2 170.9,50.76 170.4,50.6 169.9,50.69 169.4,50.5 168.9,50.64 168.4,50.46 167.9,50.49 167.4,50.26 166.9,50.2 166.4,50.22" fill="#3f86bb"/>
<polygon points="183.8,55.4 184.1,55.17 184.41,54.94 184.71,54.72 185.01,54.49 185.32,54.26 185.62,54.18 185.93,54.15 186.23,54.12 186.53,54.09 186.84,54.06 187.14,54.03 187.44,54 187.75,53.97 188.05,53.93 188.36,53.9 188.66,54.01 188.96,54.14 189.27,54.26 189.57,54.39 189.87,54.52 190.18,54.65 190.48,54.77 190.79,54.9 191.09,55.03 191.39,55.15 191.7,55.34 192,55.56 192.3,55.77 192.61,55.99 192.91,56.2 193.21,56.42 193.52,56.63 193.82,56.85 194.13,57.07 194.43,57.28 194.73,57.5 195.04,57.71 195.34,57.93 195.64,58.14 195.95,58.36 196.25,58.58 196.56,58.79 196.86,59.01 197.16,59.22 197.47,59.44 197.77,59.66 198.07,59.87 198.38,60.09 198.68,60.3 198.99,60.52 199.29,60.77 199.59,61.04 199.9,61.31 200.2,61.58 200.2,85.5 198.9,86.5 197.6,85.5 197.6,61.5 196.7,62.5 195.8,61.5 195.8,84.2 194.95,85.2 194.1,84.2 194.1,62.5 193,63.5 191.9,62.5 191.9,83.5 191.15,84.5 190.4,83.5 190.4,81 189.9,82 189.4,81 189.4,78.7 189,79.5 188.6,78.7 188.6,75.2 188.2,76 187.8,75.2 187.8,72.7 187.4,73.5 187,72.7 187,69.2 186.6,70 186.2,69.2 186.2,66.7 185.8,67.5 185.4,66.7 185.4,63.2 185,64 184.6,63.2 184.6,60.2 184.2,61 183.8,60.2" fill="#3f86bb"/>
<polygon points="239.4,99.76 239.7,100.13 240,100.5 240.3,100.88 240.6,101.25 240.9,101.63 241.2,102.01 241.5,102.39 241.8,102.77 242.1,103.14 242.4,103.52 242.7,103.9 243,104.28 243.3,104.66 243.6,105.03 243.9,105.41 244.2,105.79 244.5,106.17 244.8,106.55 245.1,106.93 245.4,107.31 245.7,107.69 246,108.07 246.3,108.45 246.6,108.83 246.9,109.21 247.2,109.59 247.5,109.97 247.8,110.35 248.1,110.73 248.4,111.1 248.7,111.48 249,111.86 249.3,112.24 249.6,112.62 249.9,113 250.2,113.37 250.5,113.75 250.8,114.13 251.1,114.51 251.4,114.89 251.7,115.27 252,115.64 252.3,116.02 252.6,116.4 252.9,116.78 253.2,117.16 253.5,117.53 253.8,117.91 254.1,118.29 254.4,118.67 254.7,119.05 255,119.43 255.3,119.8 255.6,120.18 255.9,120.56 255.9,134.2 254.95,135.2 254,134.2 254,119.2 253.6,120 253.2,119.2 253.2,132.5 252.25,133.5 251.3,132.5 251.3,116.4 251,117 250.7,116.4 250.7,127 249.55,128 248.4,127 248.4,112.5 247.85,113.5 247.3,112.5 247.3,122 246.05,123 244.8,122 244.8,108 244.2,109 243.6,108 243.6,117.4 242.65,118.4 241.7,117.4 241.7,105 241.45,105.5 241.2,105 241.2,112 240.3,113 239.4,112" fill="#3f86bb"/>
<rect x="191.9" y="63" width="2.2" height="20" fill="#3f86bb" opacity="0.42"/>
<rect x="195.8" y="62" width="1.8" height="8" fill="#3f86bb" opacity="0.12"/>
<polygon points="176.6,50.95 177.9,51.69 177.9,56.4 177.25,57.2 176.6,56.4" fill="#3f86bb"/>
<polygon points="202.9,64 205,65.83 205,87.7 203.95,88.5 202.9,87.7" fill="#3f86bb"/>
<polygon points="206.7,67.31 208.6,69.06 208.6,91.2 207.65,92 206.7,91.2" fill="#3f86bb"/>
<polygon points="211.4,71.62 213.4,73.41 213.4,77.7 212.4,78.5 211.4,77.7" fill="#3f86bb"/>
<polygon points="218.2,78.15 220,80.08 220,95.7 219.1,96.5 218.2,95.7" fill="#3f86bb"/>
<polygon points="223.5,83.35 225.2,84.91 225.2,89.6 224.35,90.4 223.5,89.6" fill="#3f86bb"/>
<polygon points="227,86.67 228,87.84 228,91.2 227.5,92 227,91.2" fill="#3f86bb"/>
<polygon points="230.7,91.01 231.8,92.23 231.8,96.2 231.25,97 230.7,96.2" fill="#3f86bb"/>
<polygon points="233.6,94.1 235.1,95.67 235.1,98.5 234.35,99.3 233.6,98.5" fill="#3f86bb"/>
<polygon points="237,97.11 238.5,98.64 238.5,103.8 237.75,104.6 237,103.8" fill="#3f86bb"/>
<polygon points="262.3,128.83 264,131.35 264,146.8 263.15,147.6 262.3,146.8" fill="#3f86bb"/>
<polygon points="272.2,143.58 273,144.72 273,147.2 272.6,148 272.2,147.2" fill="#3f86bb"/>
<polygon points="273.6,145.57 274.4,146.71 274.4,148.7 274,149.5 273.6,148.7" fill="#3f86bb"/>
<polygon points="275,147.64 275.8,148.92 275.8,149.7 275.4,150.5 275,149.7" fill="#3f86bb"/>
<polygon points="166.35,48.6 166.35,43.3 167,42.8 167.65,43.3 167.65,48.84" fill="#3f86bb"/>
<polygon points="223.5,84.35 223.5,77.5 224.3,77 225.1,77.5 225.1,85.82" fill="#3f86bb"/>
<polygon points="248.6,112.36 248.6,104.1 249.6,103.6 250.6,104.1 250.6,114.88" fill="#3f86bb"/>
<polygon points="251.3,115.76 251.3,109.9 252,109.4 252.7,109.9 252.7,117.53" fill="#3f86bb"/>
<polygon points="111.1,102 111.98,104.19 114.33,104.35 112.52,105.86 113.1,108.15 111.1,106.9 109.1,108.15 109.68,105.86 107.87,104.35 110.22,104.19" fill="#ff0000"/>
<polygon points="129.6,43 130.48,45.19 132.83,45.35 131.02,46.86 131.6,49.15 129.6,47.9 127.6,49.15 128.18,46.86 126.37,45.35 128.72,45.19" fill="#ff0000"/>
<polygon points="148.2,38.4 149.08,40.59 151.43,40.75 149.62,42.26 150.2,44.55 148.2,43.3 146.2,44.55 146.78,42.26 144.97,40.75 147.32,40.59" fill="#ff0000"/>
<polygon points="166.5,47.9 167.38,50.09 169.73,50.25 167.92,51.76 168.5,54.05 166.5,52.8 164.5,54.05 165.08,51.76 163.27,50.25 165.62,50.09" fill="#ff0000"/>
<polygon points="218,74.3 218.88,76.49 221.23,76.65 219.42,78.16 220,80.45 218,79.2 216,80.45 216.58,78.16 214.77,76.65 217.12,76.49" fill="#ff0000"/>
<polygon points="240.8,98.2 241.68,100.39 244.03,100.55 242.22,102.06 242.8,104.35 240.8,103.1 238.8,104.35 239.38,102.06 237.57,100.55 239.92,100.39" fill="#ff0000"/>
<polygon points="264,127.4 264.88,129.59 267.23,129.75 265.42,131.26 266,133.55 264,132.3 262,133.55 262.58,131.26 260.77,129.75 263.12,129.59" fill="#ff0000"/>
<polygon points="309.4,190.2 310.28,192.39 312.63,192.55 310.82,194.06 311.4,196.35 309.4,195.1 307.4,196.35 307.98,194.06 306.17,192.55 308.52,192.39" fill="#ff0000"/>
<line x1="299.75" y1="163.8" x2="299.75" y2="209.7" stroke="#1a8a1a" stroke-width="1.5"/>
<polygon points="299.75,179.5 300.66,181.75 303.08,181.92 301.21,183.48 301.81,185.83 299.75,184.54 297.69,185.83 298.29,183.48 296.42,181.92 298.84,181.75" fill="#0d6f0d"/>
<line x1="403.7" y1="265.4" x2="403.7" y2="293.8" stroke="#1a8a1a" stroke-width="1.5"/>
<polygon points="403.7,275.1 404.61,277.35 407.03,277.52 405.16,279.08 405.76,281.43 403.7,280.14 401.64,281.43 402.24,279.08 400.37,277.52 402.79,277.35" fill="#0d6f0d"/>
<line x1="457.7" y1="206.3" x2="457.7" y2="218.9" stroke="#1a8a1a" stroke-width="1.5"/>
<polygon points="457.7,209.3 458.61,211.55 461.03,211.72 459.16,213.28 459.76,215.63 457.7,214.34 455.64,215.63 456.24,213.28 454.37,211.72 456.79,211.55" fill="#0d6f0d"/>
<line x1="456.7" y1="224" x2="471.8" y2="224" stroke="#ff0000" stroke-width="1.3"/>
<line x1="463.5" y1="216.8" x2="463.5" y2="231.7" stroke="#ff0000" stroke-width="1.3"/>
<circle cx="463.5" cy="224" r="3.3" fill="#ff0000"/>
</g>
<text x="110.72" y="93.8" font-size="14.49" textLength="10.86" lengthAdjust="spacingAndGlyphs">U</text>
<text x="130.2" y="34" font-size="14.49" textLength="9.4" lengthAdjust="spacingAndGlyphs">B</text>
<text x="148.17" y="29.6" font-size="14.49" textLength="9.92" lengthAdjust="spacingAndGlyphs">V</text>
<text x="167" y="38.7" font-size="14.49" textLength="9.27" lengthAdjust="spacingAndGlyphs">R</text>
<text x="241.08" y="89.5" font-size="14.49" textLength="10.35" lengthAdjust="spacingAndGlyphs">H</text>
<text x="264.04" y="118.4" font-size="14.49" textLength="15.75" lengthAdjust="spacingAndGlyphs">Ks</text>
<text x="291.18" y="162.6" font-size="14.49" textLength="21.2" lengthAdjust="spacingAndGlyphs">W1</text>
<text x="309.12" y="187.4" font-size="14.49" textLength="8.4" lengthAdjust="spacingAndGlyphs">L</text>
<text x="399.87" y="261.9" font-size="14.49" textLength="22.1" lengthAdjust="spacingAndGlyphs">W3</text>
<text x="431.58" y="203.2" font-size="14.49" textLength="21.54" lengthAdjust="spacingAndGlyphs">W4</text>
<text x="460.75" y="242.2" font-size="14.49" textLength="56.44" lengthAdjust="spacingAndGlyphs">MIPS 24</text>
<text transform="translate(217.52,68.4) scale(1,1.26)" x="0" y="0" font-size="14" textLength="5.11" lengthAdjust="spacingAndGlyphs">J</text>
<rect x="266.7" y="8.5" width="243.8" height="81.9" rx="2.6" ry="2.6" fill="#fff" fill-opacity=".8" stroke="#cfcfcf" stroke-width="1"/>
<line x1="271.7" y1="29.5" x2="299.3" y2="29.5" stroke="#ecceA5" stroke-width="1.3"/>
<line x1="271.7" y1="57.6" x2="299.3" y2="57.6" stroke="#000" stroke-width="1.7"/>
<line x1="271.7" y1="78.1" x2="299.3" y2="78.1" stroke="#4a90c4" stroke-width="1.4"/>
<text x="309.98" y="25" font-size="14.49" textLength="8.26" lengthAdjust="spacingAndGlyphs" font-style="italic">β</text>
<text x="322.49" y="25" font-size="14.49" textLength="19.78" lengthAdjust="spacingAndGlyphs">Pic</text>
<text x="345.43" y="25" font-size="14.49" textLength="84.63" lengthAdjust="spacingAndGlyphs">Photosphere</text>
<text x="433.22" y="25" font-size="14.49" textLength="41.13" lengthAdjust="spacingAndGlyphs">Model</text>
<text x="309.19" y="41.3" font-size="14.49" textLength="74.26" lengthAdjust="spacingAndGlyphs">[M/H]=0.0,</text>
<text x="387.43" y="41.3" font-size="14.49" textLength="57.55" lengthAdjust="spacingAndGlyphs">T=8000,</text>
<text x="444.43" y="41.3" font-size="14.49" textLength="20.63" lengthAdjust="spacingAndGlyphs" font-style="italic">log</text>
<text x="465.32" y="41.3" font-size="14.49" textLength="39.62" lengthAdjust="spacingAndGlyphs">g=4.0</text>
<text x="309.21" y="61.7" font-size="14.49" textLength="46.06" lengthAdjust="spacingAndGlyphs" font-style="italic">Spitzer</text>
<text x="360.26" y="61.7" font-size="14.49" textLength="20.72" lengthAdjust="spacingAndGlyphs" font-style="italic">IRS</text>
<text x="386.04" y="61.7" font-size="14.49" textLength="65.03" lengthAdjust="spacingAndGlyphs">Spectrum</text>
<text x="309.2" y="81.9" font-size="14.49" textLength="27.99" lengthAdjust="spacingAndGlyphs">IRTF</text>
<text x="341.78" y="81.9" font-size="14.49" textLength="32.25" lengthAdjust="spacingAndGlyphs">Spex</text>
<rect x="63.6" y="1.5" width="453.3" height="345.85" fill="none" stroke="#2b2b2b" stroke-width="1"/>
<line x1="139.9" y1="347.35" x2="139.9" y2="351.05" stroke="#2b2b2b" stroke-width="1"/>
<text x="129.13" y="365.3" font-size="14.49" textLength="21.86" lengthAdjust="spacingAndGlyphs">0.5</text>
<line x1="198" y1="347.35" x2="198" y2="351.05" stroke="#2b2b2b" stroke-width="1"/>
<text x="194.2" y="365.3" font-size="14.49" textLength="7.44" lengthAdjust="spacingAndGlyphs">1</text>
<line x1="256.1" y1="347.35" x2="256.1" y2="351.05" stroke="#2b2b2b" stroke-width="1"/>
<text x="251.71" y="365.3" font-size="14.49" textLength="8.98" lengthAdjust="spacingAndGlyphs">2</text>
<line x1="290.08" y1="347.35" x2="290.08" y2="351.05" stroke="#2b2b2b" stroke-width="1"/>
<text x="286" y="365.3" font-size="14.49" textLength="8.49" lengthAdjust="spacingAndGlyphs">3</text>
<line x1="314.2" y1="347.35" x2="314.2" y2="351.05" stroke="#2b2b2b" stroke-width="1"/>
<text x="310.27" y="365.3" font-size="14.49" textLength="8.05" lengthAdjust="spacingAndGlyphs">4</text>
<line x1="332.9" y1="347.35" x2="332.9" y2="351.05" stroke="#2b2b2b" stroke-width="1"/>
<text x="328.68" y="365.3" font-size="14.49" textLength="8.65" lengthAdjust="spacingAndGlyphs">5</text>
<line x1="391" y1="347.35" x2="391" y2="351.05" stroke="#2b2b2b" stroke-width="1"/>
<text x="381.73" y="365.3" font-size="14.49" textLength="18.02" lengthAdjust="spacingAndGlyphs">10</text>
<line x1="449.1" y1="347.35" x2="449.1" y2="351.05" stroke="#2b2b2b" stroke-width="1"/>
<text x="440.28" y="365.3" font-size="14.49" textLength="17.56" lengthAdjust="spacingAndGlyphs">20</text>
<line x1="483.08" y1="347.35" x2="483.08" y2="351.05" stroke="#2b2b2b" stroke-width="1"/>
<text x="474.54" y="365.3" font-size="14.49" textLength="17.27" lengthAdjust="spacingAndGlyphs">30</text>
<line x1="517.07" y1="347.35" x2="517.07" y2="351.05" stroke="#2b2b2b" stroke-width="1"/>
<text x="508.53" y="365.3" font-size="14.49" textLength="17.41" lengthAdjust="spacingAndGlyphs">35</text>
<line x1="97.08" y1="347.35" x2="97.08" y2="349.55" stroke="#2b2b2b" stroke-width="0.8"/>
<line x1="121.2" y1="347.35" x2="121.2" y2="349.55" stroke="#2b2b2b" stroke-width="0.8"/>
<line x1="155.18" y1="347.35" x2="155.18" y2="349.55" stroke="#2b2b2b" stroke-width="0.8"/>
<line x1="168.1" y1="347.35" x2="168.1" y2="349.55" stroke="#2b2b2b" stroke-width="0.8"/>
<line x1="179.3" y1="347.35" x2="179.3" y2="349.55" stroke="#2b2b2b" stroke-width="0.8"/>
<line x1="189.17" y1="347.35" x2="189.17" y2="349.55" stroke="#2b2b2b" stroke-width="0.8"/>
<line x1="348.18" y1="347.35" x2="348.18" y2="349.55" stroke="#2b2b2b" stroke-width="0.8"/>
<line x1="361.1" y1="347.35" x2="361.1" y2="349.55" stroke="#2b2b2b" stroke-width="0.8"/>
<line x1="372.3" y1="347.35" x2="372.3" y2="349.55" stroke="#2b2b2b" stroke-width="0.8"/>
<line x1="382.17" y1="347.35" x2="382.17" y2="349.55" stroke="#2b2b2b" stroke-width="0.8"/>
<line x1="507.2" y1="347.35" x2="507.2" y2="349.55" stroke="#2b2b2b" stroke-width="0.8"/>
<line x1="59.9" y1="347.2" x2="63.6" y2="347.2" stroke="#2b2b2b" stroke-width="1"/>
<text x="25.36" y="354.9" font-size="20.7" textLength="23.58" lengthAdjust="spacingAndGlyphs">10</text>
<text x="49.42" y="347.4" font-size="14.49" textLength="7.65" lengthAdjust="spacingAndGlyphs">0</text>
<line x1="59.9" y1="197.05" x2="63.6" y2="197.05" stroke="#2b2b2b" stroke-width="1"/>
<text x="25.36" y="204.75" font-size="20.7" textLength="23.58" lengthAdjust="spacingAndGlyphs">10</text>
<text x="49.68" y="197.25" font-size="14.49" textLength="6.53" lengthAdjust="spacingAndGlyphs">1</text>
<line x1="59.9" y1="46.9" x2="63.6" y2="46.9" stroke="#2b2b2b" stroke-width="1"/>
<text x="25.36" y="54.6" font-size="20.7" textLength="23.58" lengthAdjust="spacingAndGlyphs">10</text>
<text x="49.03" y="47.1" font-size="14.49" textLength="8.24" lengthAdjust="spacingAndGlyphs">2</text>
<line x1="61.4" y1="302" x2="63.6" y2="302" stroke="#2b2b2b" stroke-width="0.8"/>
<line x1="61.4" y1="275.56" x2="63.6" y2="275.56" stroke="#2b2b2b" stroke-width="0.8"/>
<line x1="61.4" y1="256.8" x2="63.6" y2="256.8" stroke="#2b2b2b" stroke-width="0.8"/>
<line x1="61.4" y1="242.25" x2="63.6" y2="242.25" stroke="#2b2b2b" stroke-width="0.8"/>
<line x1="61.4" y1="230.36" x2="63.6" y2="230.36" stroke="#2b2b2b" stroke-width="0.8"/>
<line x1="61.4" y1="220.31" x2="63.6" y2="220.31" stroke="#2b2b2b" stroke-width="0.8"/>
<line x1="61.4" y1="211.6" x2="63.6" y2="211.6" stroke="#2b2b2b" stroke-width="0.8"/>
<line x1="61.4" y1="203.92" x2="63.6" y2="203.92" stroke="#2b2b2b" stroke-width="0.8"/>
<line x1="61.4" y1="151.85" x2="63.6" y2="151.85" stroke="#2b2b2b" stroke-width="0.8"/>
<line x1="61.4" y1="125.41" x2="63.6" y2="125.41" stroke="#2b2b2b" stroke-width="0.8"/>
<line x1="61.4" y1="106.65" x2="63.6" y2="106.65" stroke="#2b2b2b" stroke-width="0.8"/>
<line x1="61.4" y1="92.1" x2="63.6" y2="92.1" stroke="#2b2b2b" stroke-width="0.8"/>
<line x1="61.4" y1="80.21" x2="63.6" y2="80.21" stroke="#2b2b2b" stroke-width="0.8"/>
<line x1="61.4" y1="70.16" x2="63.6" y2="70.16" stroke="#2b2b2b" stroke-width="0.8"/>
<line x1="61.4" y1="61.45" x2="63.6" y2="61.45" stroke="#2b2b2b" stroke-width="0.8"/>
<line x1="61.4" y1="53.77" x2="63.6" y2="53.77" stroke="#2b2b2b" stroke-width="0.8"/>
<line x1="61.4" y1="1.7" x2="63.6" y2="1.7" stroke="#2b2b2b" stroke-width="0.8"/>
<text x="208.47" y="387.9" font-size="20.7" textLength="113.7" lengthAdjust="spacingAndGlyphs">Wavelength</text>
<text x="328.94" y="387.9" font-size="20.7" textLength="5.97" lengthAdjust="spacingAndGlyphs">[</text>
<text x="337.36" y="387.9" font-size="20.7" textLength="27.08" lengthAdjust="spacingAndGlyphs" font-style="italic">μm</text>
<text x="365.87" y="387.9" font-size="20.7" textLength="5.97" lengthAdjust="spacingAndGlyphs">]</text>
<g transform="translate(15.2,202.1) rotate(-90)"><text x="-0.55" y="0" font-size="18.63" textLength="10.08" lengthAdjust="spacingAndGlyphs" font-style="italic">F</text><text x="11.33" y="3.2" font-size="13.04" textLength="8.03" lengthAdjust="spacingAndGlyphs" font-style="italic">ν</text><text x="24.61" y="0" font-size="18.63" textLength="31.46" lengthAdjust="spacingAndGlyphs">[Jy]</text></g>
</svg>
</body></html>
